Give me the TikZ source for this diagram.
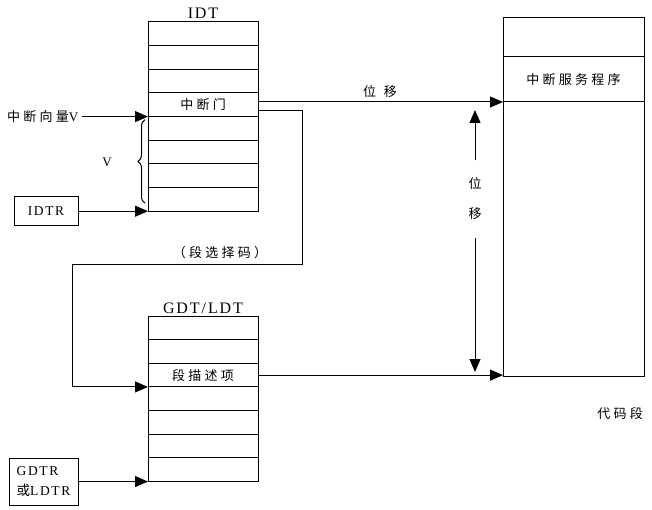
\documentclass[tikz,border=0pt]{standalone}
\usepackage{fontspec}
\setmainfont{Liberation Serif}[LetterSpace=12]
\newfontfamily\cjk{Noto Sans CJK SC}[LetterSpace=25]
\usetikzlibrary{arrows.meta,chains,positioning,%
	decorations.pathreplacing}

\begin{document}
\begin{tikzpicture}[
		x = 1pt, y = -1pt,
		node distance = 0pt,
		line width = 1pt,
		RowStyle/.style={draw, minimum width=110pt, minimum height=23.65pt,
			outer sep=0pt, inner sep=0pt, font=\cjk\fontsize{13}{16}\selectfont, on chain},
		SegStyle/.style={draw, minimum width=141pt, outer sep=0pt, inner sep=0pt,
			font=\cjk\fontsize{13}{16}\selectfont, on chain},
		RegStyle/.style={draw, outer sep=0pt, font=\fontsize{13.5}{20}\selectfont},
		TitleStyle/.style={font=\fontsize{16}{18}\selectfont},
		TextStyle/.style={font=\cjk\fontsize{13}{16}\selectfont},
		ArrowStyle/.style={-{Triangle[length=13pt, width=11pt]}},
		BraceStyle/.style={decorate, decoration={brace, amplitude=7pt}},
		]
		\useasboundingbox (0,0) rectangle (652,510);
		
		% IDT
		\begin{scope}[start chain = going below]
		\node [RowStyle, anchor=north west] (i1) at (148,22) {};
		\node [RowStyle] (i2) {};
		\node [RowStyle] (i3) {};
		\node [RowStyle] (i4) {中断门};
		\node [RowStyle] (i5) {};
		\node [RowStyle] (i6) {};
		\node [RowStyle] (i7) {};
		\node [RowStyle] (i8) {};
		\end{scope}
		\node [TitleStyle, above=0pt of i1] (idt) {IDT};
		
		% GDT/LDT
		\begin{scope}[start chain = going below]
		\node [RowStyle, anchor=north west] (g1) at (148,316) {};
		\node [RowStyle] (g2) {};
		\node [RowStyle] (g3) {段描述项};
		\node [RowStyle] (g4) {};
		\node [RowStyle] (g5) {};
		\node [RowStyle] (g6) {};
		\node [RowStyle] (g7) {};
		\end{scope}
		\node [TitleStyle, above=-1pt of g1] (gdt) {GDT/LDT};
		
		% code segment
		\begin{scope}[start chain = going below]
		\node [SegStyle, minimum height=39pt, anchor=north west] (cs1) at (503,18) {};
		\node [SegStyle, minimum height=45pt] (cs2) {中断服务程序};
		\node [SegStyle, minimum height=274pt] (cs3) {};
		\end{scope}
		\node [TextStyle] (seg) at (620,414) {代码段};
		
		% registers
		\node [RegStyle, minimum width=64pt, minimum height=29pt,
			left=70pt of i8.south west] (idtr) {IDTR};
		\node [RegStyle, minimum width=69pt, minimum height=47pt, align=left,
			inner xsep=4pt, left=70pt of g7.south west] (gdtr) {GDTR\\{\cjk 或}LDTR};
		\node [TextStyle, left=66pt of i5.north west] (vec) {中断向量{\rmfamily V}};
		
		\draw [ArrowStyle] (vec) -- (i5.north west);
		\draw [ArrowStyle] (idtr) -- (i8.south west);
		\draw [ArrowStyle] (gdtr) -- (g7.south west);
		
		\draw [BraceStyle] ([xshift=-3pt, yshift=8pt]i8.south west)
			-- ([xshift=-3pt, yshift=-3pt]i5.north west);
		\node [font=\fontsize{13}{15}\selectfont] (vlab) at (107,162) {V};
		
		% gate -> service routine
		\draw [ArrowStyle] (cs3.north west -| i4.east) -- (cs3.north west);
		\node [TextStyle] (dlab) at (380,92) {位\hspace{0.6em}移};
		
		% gate -> selector -> descriptor
		\coordinate (bend) at (302,264);
		\draw [ArrowStyle] ([yshift=-6pt]i4.east) -| (bend)
			-| ([xshift=-76pt]g4.north west) -- (g4.north west);
		\node [TextStyle] (sel) at (220,253) {（段选择码）};
		
		% descriptor -> segment base
		\draw [ArrowStyle] (g3.east) -- (g3.east -| cs3.south west);
		
		% offset
		\node [TextStyle, align=center, inner ysep=17pt] (disp) at (475,199) {位\\[14pt]移};
		\draw [ArrowStyle, shorten >=8pt] (disp) -- (disp |- cs3.north west);
		\draw [ArrowStyle, shorten >=4pt] (disp) -- (disp |- cs3.south west);
		
		
		\end{tikzpicture}
\end{document}
